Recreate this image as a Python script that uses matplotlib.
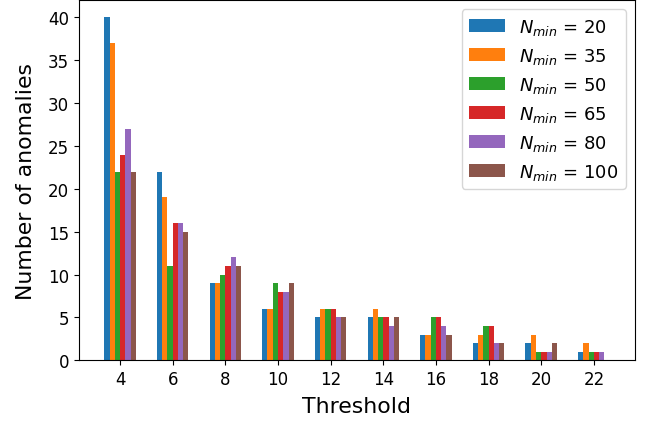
import numpy as np
from matplotlib import pyplot as plt

thresholds = [4, 6, 8, 10, 12, 14, 16, 18, 20, 22]
n_min = [20, 35, 50, 65, 80, 100]

# anomalies per threshold, one list per N_min
counts_20 = [40, 22, 9, 6, 5, 5, 3, 2, 2, 1]
counts_35 = [37, 19, 9, 6, 6, 6, 3, 3, 3, 2]
counts_50 = [22, 11, 10, 9, 6, 5, 5, 4, 1, 1]
counts_65 = [24, 16, 11, 8, 6, 5, 5, 4, 1, 1]
counts_80 = [27, 16, 12, 8, 5, 4, 4, 2, 1, 1]
counts_100 = [22, 15, 11, 9, 5, 5, 3, 2, 2, 0]

series = [counts_20, counts_35, counts_50, counts_65, counts_80, counts_100]

fig = plt.figure(figsize=(6.49, 4.27), dpi=100)
ax = fig.add_subplot(111)
fig.subplots_adjust(left=0.1217, right=0.9784, top=0.997, bottom=0.154)

width = 0.2
x = np.array(thresholds, dtype=float)
for i, (n, vals) in enumerate(zip(n_min, series)):
    ax.bar(x + (i - 2.5) * width, vals, width, label=r'$N_{min}$ = %d' % n)

ax.set_xticks(thresholds)
ax.tick_params(labelsize=12)
ax.set_xlabel('Threshold', fontsize=15.8, labelpad=6)
ax.set_ylabel('Number of anomalies', fontsize=15.8, labelpad=9)
ax.legend(loc='upper right', fontsize=13)

plt.savefig('out.png', dpi=100)
